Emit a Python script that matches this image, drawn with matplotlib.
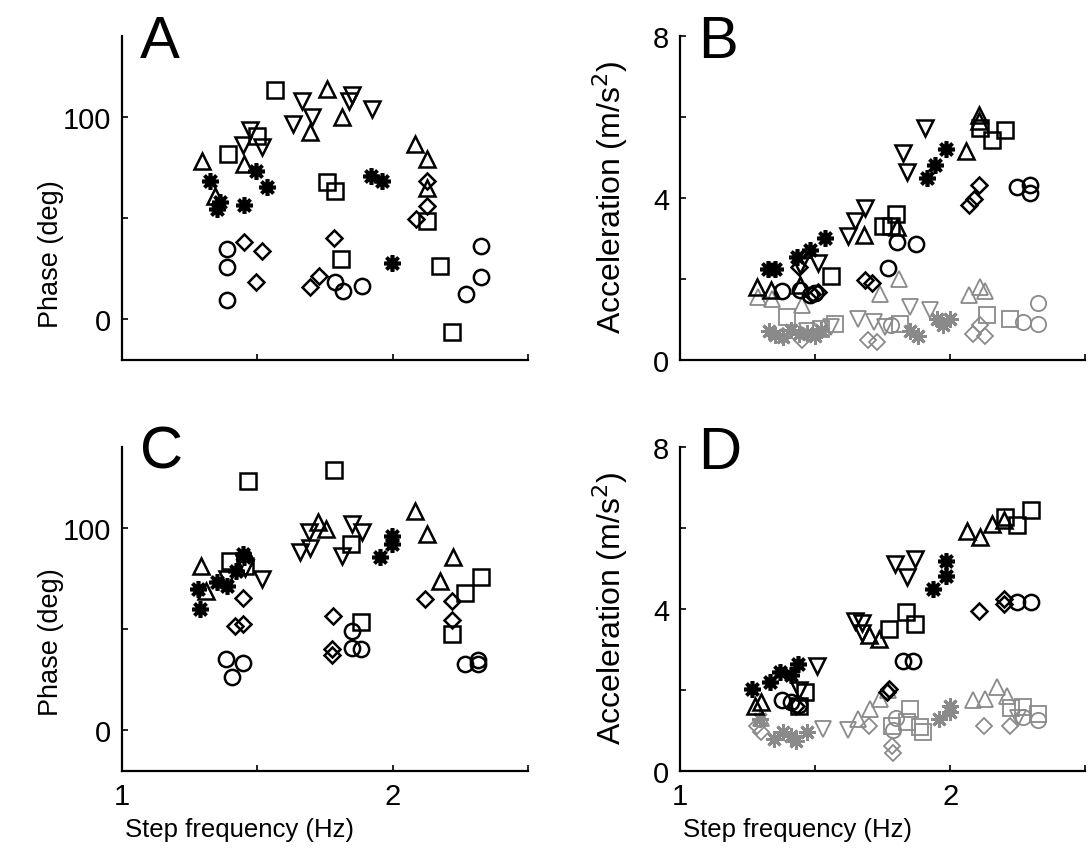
import matplotlib
matplotlib.use("Agg")
import matplotlib.pyplot as plt

plt.rcParams['font.family'] = ['Liberation Sans', 'DejaVu Sans']

# ---- Panel A: phase (deg) vs step frequency (Hz) ----
A_SQ_X = [1.564, 1.39, 1.499, 1.756, 1.786, 1.81, 2.126, 2.175, 2.22]
A_SQ_Y = [113, 81.7, 90.7, 68, 63.2, 29.7, 48.7, 26.4, -6.3]
A_UP_X = [1.294, 1.45, 1.758, 1.814, 1.696, 2.081, 2.126, 2.126, 1.344]
A_UP_Y = [77.9, 76.7, 113.9, 99.9, 92.4, 86.6, 79.2, 64.7, 61]
A_DN_X = [1.665, 1.702, 1.632, 1.85, 1.84, 1.922, 1.472, 1.447, 1.517]
A_DN_Y = [108, 99.8, 96.5, 110.5, 108, 104, 93.2, 85.8, 85]
A_DI_X = [1.449, 1.517, 1.493, 1.783, 1.727, 1.696, 2.126, 2.128, 2.085]
A_DI_Y = [38, 33.8, 18.2, 40, 21.4, 15.7, 68.5, 56, 49.5]
A_CI_X = [1.388, 1.388, 1.388, 1.786, 1.817, 1.885, 2.326, 2.326, 2.27]
A_CI_Y = [34.7, 25.6, 9.6, 18.2, 14, 16.5, 36, 21.1, 12.7]
A_ST_X = [1.326, 1.363, 1.35, 1.452, 1.536, 1.493, 1.92, 1.961, 1.999]
A_ST_Y = [68.5, 57.8, 54.5, 56.4, 65.2, 73.4, 70.5, 68.5, 27.6]

# ---- Panel B: acceleration (m/s^2) vs step frequency ----
B_SQ_X = [1.558, 1.80, 1.75, 1.78, 2.111, 2.154, 2.204]
B_SQ_Y = [2.07, 3.61, 3.31, 3.31, 5.72, 5.43, 5.68]
B_UP_X = [1.284, 1.336, 1.681, 1.803, 2.059, 2.105, 2.105, 1.442]
B_UP_Y = [1.80, 1.72, 3.08, 3.28, 5.16, 6.03, 5.9, 1.84]
B_DN_X = [1.683, 1.648, 1.62, 1.827, 1.84, 1.907, 1.512, 1.444]
B_DN_Y = [3.74, 3.42, 3.06, 5.1, 4.63, 5.73, 2.38, 2.33]
B_DI_X = [1.685, 1.71, 1.509, 1.49, 2.068, 2.09, 2.105, 1.44]
B_DI_Y = [1.96, 1.9, 1.68, 1.63, 3.82, 3.98, 4.31, 2.3]
B_CI_X = [1.377, 1.445, 1.482, 1.5, 1.771, 1.803, 1.874, 2.247, 2.296, 2.296]
B_CI_Y = [1.70, 1.72, 1.6, 1.66, 2.27, 2.91, 2.85, 4.27, 4.31, 4.11]
B_ST_X = [1.327, 1.35, 1.432, 1.479, 1.537, 1.914, 1.944, 1.985]
B_ST_Y = [2.25, 2.25, 2.54, 2.72, 3.01, 4.48, 4.81, 5.21]
# grey (second component) in B
B_UP_GX = [1.29, 1.34, 1.45, 1.74, 1.81, 2.07, 2.11, 2.13]
B_UP_GY = [1.55, 1.51, 1.35, 1.63, 2.0, 1.6, 1.8, 1.7]
B_DN_GX = [1.66, 1.716, 1.76, 1.852, 1.926, 1.56, 1.47]
B_DN_GY = [1.01, 0.93, 0.82, 1.30, 1.22, 0.8, 0.7]
B_SQ_GX = [1.395, 1.574, 1.815, 2.136, 2.222, 1.52]
B_SQ_GY = [1.06, 0.89, 0.89, 1.10, 1.01, 0.75]
B_DI_GX = [1.45, 1.697, 1.73, 2.086, 2.13, 2.11, 1.38]
B_DI_GY = [0.48, 0.48, 0.45, 0.64, 0.6, 0.86, 0.6]
B_CI_GX = [2.327, 2.327, 2.27, 1.78]
B_CI_GY = [1.39, 0.89, 0.93, 0.85]
B_ST_GX = [1.33, 1.35, 1.38, 1.41, 1.44, 1.47, 1.50, 1.52, 1.95, 1.975, 2.0, 1.85, 1.88]
B_ST_GY = [0.72, 0.62, 0.57, 0.73, 0.64, 0.66, 0.6, 0.74, 1.01, 0.85, 1.01, 0.7, 0.6]

# ---- Panel C: phase (deg) ----
C_SQ_X = [1.465, 1.783, 1.40, 1.455, 1.844, 1.881, 2.326, 2.268, 2.219]
C_SQ_Y = [122.9, 128.6, 83.4, 81, 92.1, 53.4, 75.6, 67.7, 47.7]
C_UP_X = [1.293, 1.311, 1.723, 1.754, 2.083, 2.126, 2.221, 2.174]
C_UP_Y = [81.4, 69, 103.1, 99.5, 108.5, 97, 85.5, 74]
C_DN_X = [1.69, 1.696, 1.659, 1.848, 1.888, 1.811, 1.517, 1.388, 1.455]
C_DN_Y = [97.9, 90, 88.3, 102, 97.9, 86.3, 74.8, 74.8, 80]
C_DI_X = [1.446, 1.419, 1.447, 1.779, 1.777, 1.777, 2.12, 2.22, 2.22]
C_DI_Y = [65.3, 51.5, 52.5, 56.4, 40.2, 37, 64.9, 64.1, 54.7]
C_CI_X = [1.385, 1.447, 1.406, 1.848, 1.848, 1.884, 2.267, 2.316, 2.316]
C_CI_Y = [35.3, 33.2, 26.3, 49, 40.7, 40.2, 32.8, 32.8, 35]
C_ST_X = [1.289, 1.279, 1.351, 1.388, 1.422, 1.449, 1.447, 1.953, 1.999, 1.999]
C_ST_Y = [60, 69.9, 73.5, 71.5, 78.9, 85.5, 87, 85.5, 96.2, 92]

# ---- Panel D: acceleration (m/s^2) ----
D_SQ_X = [1.463, 1.772, 1.836, 1.87, 2.204, 2.247, 2.299, 1.44]
D_SQ_Y = [1.94, 3.5, 3.92, 3.63, 6.26, 6.06, 6.43, 1.6]
D_UP_X = [1.278, 1.3, 1.735, 1.7, 2.062, 2.109, 2.154, 2.2]
D_UP_Y = [1.61, 1.7, 3.26, 3.35, 5.93, 5.77, 6.1, 6.2]
D_DN_X = [1.506, 1.648, 1.675, 1.796, 1.87, 1.84, 1.675, 1.44]
D_DN_Y = [2.6, 3.71, 3.66, 5.11, 5.23, 4.78, 3.4, 2.0]
D_DI_X = [2.105, 2.198, 2.198, 1.772, 1.765, 1.43]
D_DI_Y = [3.96, 4.25, 4.12, 2.02, 1.95, 1.6]
D_CI_X = [2.247, 2.299, 1.827, 1.864, 1.377, 1.41, 1.44]
D_CI_Y = [4.17, 4.17, 2.72, 2.72, 1.74, 1.7, 1.63]
D_ST_X = [1.265, 1.333, 1.37, 1.41, 1.438, 1.938, 1.985, 1.985]
D_ST_Y = [2.02, 2.19, 2.44, 2.36, 2.64, 4.49, 4.82, 5.19]
# grey (second component) in D
D_UP_GX = [1.66, 1.704, 1.74, 1.77, 2.086, 2.13, 2.173, 2.21, 1.30]
D_UP_GY = [1.28, 1.53, 1.78, 2.0, 1.74, 1.78, 2.07, 1.85, 1.3]
D_DN_GX = [1.53, 1.62, 2.25]
D_DN_GY = [1.04, 1.0, 1.3]
D_SQ_GX = [1.852, 1.889, 1.784, 1.84, 2.226, 2.27, 2.327, 1.90]
D_SQ_GY = [1.53, 1.08, 1.12, 1.2, 1.55, 1.57, 1.41, 0.95]
D_DI_GX = [1.70, 1.784, 1.284, 1.30, 2.127, 2.222, 1.79]
D_DI_GY = [1.11, 0.62, 1.12, 0.95, 1.12, 1.12, 0.45]
D_CI_GX = [2.27, 2.327, 1.79, 1.80]
D_CI_GY = [1.33, 1.25, 1.0, 1.3]
D_ST_GX = [1.346, 1.41, 1.469, 1.38, 1.43, 1.957, 2.0, 2.0, 1.296]
D_ST_GY = [0.79, 0.87, 0.96, 0.95, 0.75, 1.28, 1.61, 1.45, 1.29]

MARK = {'sq': ('s', 11), 'up': ('^', 12), 'dn': ('v', 12),
        'di': ('D', 8), 'ci': ('o', 11), 'st': ((8, 2, 0), 12)}


def scatter(ax, key, xs, ys, color='black', lw=1.8):
    m, ms = MARK[key]
    if key == 'st':
        lw = lw + 0.8
    ax.plot(xs, ys, linestyle='none', marker=m, ms=ms, mew=lw,
            mec=color, mfc='none')


def style_axes(ax, letter, yticks, ylabels, xlabels):
    for s in ['top', 'right']:
        ax.spines[s].set_visible(False)
    for s in ['left', 'bottom']:
        ax.spines[s].set_linewidth(1.6)
    ax.set_xlim(1, 2.5)
    ax.set_xticks([1, 1.5, 2, 2.5])
    ax.set_xticklabels(xlabels)
    ax.set_yticks(yticks)
    ax.set_yticklabels(ylabels)
    ax.tick_params(direction='in', length=4, width=1.2, labelsize=21, pad=8)
    ax.text(0.045, 0.935, letter, transform=ax.transAxes, fontsize=43,
            va='baseline', ha='left')


fig = plt.figure(figsize=(10.9, 8.53), dpi=100)
axA = fig.add_axes([0.112, 0.577, 0.3725, 0.380])
axB = fig.add_axes([0.624, 0.577, 0.3716, 0.380])
axC = fig.add_axes([0.112, 0.095, 0.3725, 0.380])
axD = fig.add_axes([0.624, 0.095, 0.3716, 0.380])

panels = [
    (axA, [('sq', A_SQ_X, A_SQ_Y), ('up', A_UP_X, A_UP_Y), ('dn', A_DN_X, A_DN_Y),
           ('di', A_DI_X, A_DI_Y), ('ci', A_CI_X, A_CI_Y), ('st', A_ST_X, A_ST_Y)], []),
    (axB, [('sq', B_SQ_X, B_SQ_Y), ('up', B_UP_X, B_UP_Y), ('dn', B_DN_X, B_DN_Y),
           ('di', B_DI_X, B_DI_Y), ('ci', B_CI_X, B_CI_Y), ('st', B_ST_X, B_ST_Y)],
          [('sq', B_SQ_GX, B_SQ_GY), ('up', B_UP_GX, B_UP_GY), ('dn', B_DN_GX, B_DN_GY),
           ('di', B_DI_GX, B_DI_GY), ('ci', B_CI_GX, B_CI_GY), ('st', B_ST_GX, B_ST_GY)]),
    (axC, [('sq', C_SQ_X, C_SQ_Y), ('up', C_UP_X, C_UP_Y), ('dn', C_DN_X, C_DN_Y),
           ('di', C_DI_X, C_DI_Y), ('ci', C_CI_X, C_CI_Y), ('st', C_ST_X, C_ST_Y)], []),
    (axD, [('sq', D_SQ_X, D_SQ_Y), ('up', D_UP_X, D_UP_Y), ('dn', D_DN_X, D_DN_Y),
           ('di', D_DI_X, D_DI_Y), ('ci', D_CI_X, D_CI_Y), ('st', D_ST_X, D_ST_Y)],
          [('sq', D_SQ_GX, D_SQ_GY), ('up', D_UP_GX, D_UP_GY), ('dn', D_DN_GX, D_DN_GY),
           ('di', D_DI_GX, D_DI_GY), ('ci', D_CI_GX, D_CI_GY), ('st', D_ST_GX, D_ST_GY)]),
]

for ax, black, grey in panels:
    for key, xs, ys in grey:
        scatter(ax, key, xs, ys, color='#8a8a8a', lw=1.3)
    for key, xs, ys in black:
        scatter(ax, key, xs, ys)

# phase panels
for ax, letter, xl in [(axA, 'A', ['', '', '', '']), (axC, 'C', ['1', '', '2', ''])]:
    style_axes(ax, letter, [0, 50, 100], ['0', '', '100'], xl)
    ax.set_ylim(-20, 140)
    ax.set_ylabel('Phase (deg)', fontsize=19.5)

# acceleration panels
for ax, letter, xl in [(axB, 'B', ['', '', '', '']), (axD, 'D', ['1', '', '2', ''])]:
    style_axes(ax, letter, [0, 2, 4, 6, 8], ['0', '', '4', '', '8'], xl)
    ax.set_ylim(0, 8)
    ax.set_ylabel('Acceleration (m/s$^2$)', fontsize=23)
    ax.yaxis.set_label_coords(-0.125, 0.505)

axA.yaxis.set_label_coords(-0.142, 0.33)
axC.yaxis.set_label_coords(-0.142, 0.40)

for ax in (axC, axD):
    ax.set_xlabel('Step frequency (Hz)', fontsize=18.5)
    ax.xaxis.set_label_coords(0.29, -0.142)

fig.savefig('out.png', dpi=100)
